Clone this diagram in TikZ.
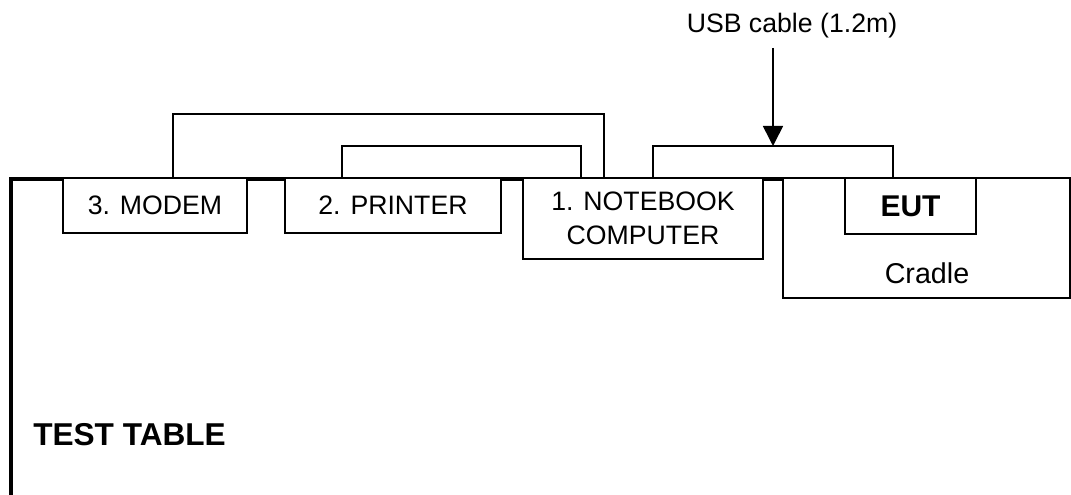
\documentclass[tikz,border=0pt]{standalone}
\usepackage{fontspec}
\setmainfont{Liberation Sans}
\usetikzlibrary{arrows.meta}
\begin{document}
\begin{tikzpicture}[x=0.75pt,y=-0.75pt,
  wire/.style={line width=1.2pt},
  tableline/.style={line width=3.4pt},
  box/.style={draw, line width=1.2pt, fill=white, inner sep=0pt, font=\fontsize{20}{25.5}\selectfont, align=center},
  plainlbl/.style={inner sep=0pt, font=\fontsize{20}{25.5}\selectfont},
  boldfont/.style={font=\fontsize{22.5}{27}\selectfont\bfseries},
]
\useasboundingbox (0,0) rectangle (1071,495);
% test table outline
\draw[tableline] (10.8,495) -- (10.8,179.2) -- (1071,179.2);
% equipment boxes
\node[box, minimum width=184*0.75pt, minimum height=55*0.75pt] (modem) at (155,205.5) {3. MODEM};
\node[box, minimum width=216*0.75pt, minimum height=55*0.75pt] (printer) at (393,205.5) {2. PRINTER};
\node[box, minimum width=240*0.75pt, minimum height=81*0.75pt] (notebook) at (643,218.5) {1. NOTEBOOK\\COMPUTER};
\node[box, minimum width=287*0.75pt, minimum height=120*0.75pt] (cradle) at (926.5,238) {};
\node[plainlbl, font=\fontsize{21.5}{26}\selectfont] (cradlelbl) at (927,273) {Cradle};
\node[box, boldfont, minimum width=131*0.75pt, minimum height=56*0.75pt] (eut) at (910.5,206) {EUT};
\node[inner sep=0pt, font=\fontsize{23.7}{28}\selectfont\bfseries, anchor=base west] (testtable) at (33,445) {TEST TABLE};
% cables
\draw[wire] (173,0 |- modem.north) -- (173,114) -- (604,114) -- (604,0 |- notebook.north);
\draw[wire] (342,0 |- printer.north) -- (342,146) -- (581,146) -- (581,0 |- notebook.north);
\draw[wire] (653,0 |- notebook.north) -- (653,146) -- (893,146) -- (893,0 |- eut.north);
% USB label and arrow
\node[plainlbl, anchor=base] (usb) at (792,33) {USB cable (1.2m)};
\coordinate (usbstart) at (773,48);
\coordinate (usbtip) at (773,146);
\draw[wire, -{Triangle[length=15pt, width=15pt]}] (usbstart) -- (usbtip);
\end{tikzpicture}
\end{document}
